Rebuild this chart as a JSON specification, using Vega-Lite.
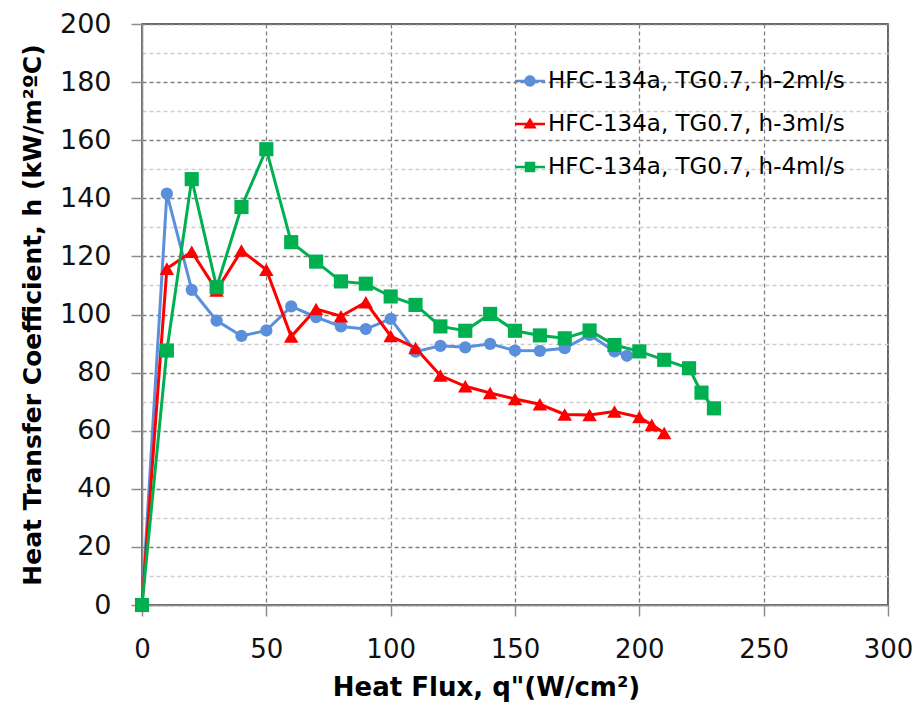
{
  "$schema": "https://vega.github.io/schema/vega-lite/v6.json",
  "width": 746,
  "height": 581,
  "autosize": {"type": "none"},
  "padding": {"left": 142, "top": 24, "right": 31, "bottom": 103},
  "background": "white",
  "config": {
    "view": {"stroke": "#333333", "strokeWidth": 1.5},
    "font": "DejaVu Sans"
  },
  "data": {
    "values": [
      {"series": "HFC-134a, TG0.7, h-2ml/s", "x": 0, "h": 0},
      {"series": "HFC-134a, TG0.7, h-2ml/s", "x": 10, "h": 141.6},
      {"series": "HFC-134a, TG0.7, h-2ml/s", "x": 20, "h": 108.5},
      {"series": "HFC-134a, TG0.7, h-2ml/s", "x": 30, "h": 97.9},
      {"series": "HFC-134a, TG0.7, h-2ml/s", "x": 40, "h": 92.6},
      {"series": "HFC-134a, TG0.7, h-2ml/s", "x": 50, "h": 94.5},
      {"series": "HFC-134a, TG0.7, h-2ml/s", "x": 60, "h": 102.8},
      {"series": "HFC-134a, TG0.7, h-2ml/s", "x": 70, "h": 99.1},
      {"series": "HFC-134a, TG0.7, h-2ml/s", "x": 80, "h": 95.9},
      {"series": "HFC-134a, TG0.7, h-2ml/s", "x": 90, "h": 95.0},
      {"series": "HFC-134a, TG0.7, h-2ml/s", "x": 100, "h": 98.5},
      {"series": "HFC-134a, TG0.7, h-2ml/s", "x": 110, "h": 87.2},
      {"series": "HFC-134a, TG0.7, h-2ml/s", "x": 120, "h": 89.2},
      {"series": "HFC-134a, TG0.7, h-2ml/s", "x": 130, "h": 88.7},
      {"series": "HFC-134a, TG0.7, h-2ml/s", "x": 140, "h": 89.9},
      {"series": "HFC-134a, TG0.7, h-2ml/s", "x": 150, "h": 87.6},
      {"series": "HFC-134a, TG0.7, h-2ml/s", "x": 160, "h": 87.5},
      {"series": "HFC-134a, TG0.7, h-2ml/s", "x": 170, "h": 88.4},
      {"series": "HFC-134a, TG0.7, h-2ml/s", "x": 180, "h": 93.0},
      {"series": "HFC-134a, TG0.7, h-2ml/s", "x": 190, "h": 87.3},
      {"series": "HFC-134a, TG0.7, h-2ml/s", "x": 195, "h": 85.8},
      {"series": "HFC-134a, TG0.7, h-3ml/s", "x": 0, "h": 0},
      {"series": "HFC-134a, TG0.7, h-3ml/s", "x": 10, "h": 115.8},
      {"series": "HFC-134a, TG0.7, h-3ml/s", "x": 20, "h": 121.6},
      {"series": "HFC-134a, TG0.7, h-3ml/s", "x": 30, "h": 108.3},
      {"series": "HFC-134a, TG0.7, h-3ml/s", "x": 40, "h": 122.0},
      {"series": "HFC-134a, TG0.7, h-3ml/s", "x": 50, "h": 115.4},
      {"series": "HFC-134a, TG0.7, h-3ml/s", "x": 60, "h": 92.4},
      {"series": "HFC-134a, TG0.7, h-3ml/s", "x": 70, "h": 101.9},
      {"series": "HFC-134a, TG0.7, h-3ml/s", "x": 80, "h": 99.4},
      {"series": "HFC-134a, TG0.7, h-3ml/s", "x": 90, "h": 104.2},
      {"series": "HFC-134a, TG0.7, h-3ml/s", "x": 100, "h": 92.6},
      {"series": "HFC-134a, TG0.7, h-3ml/s", "x": 110, "h": 88.5},
      {"series": "HFC-134a, TG0.7, h-3ml/s", "x": 120, "h": 79.0},
      {"series": "HFC-134a, TG0.7, h-3ml/s", "x": 130, "h": 75.3},
      {"series": "HFC-134a, TG0.7, h-3ml/s", "x": 140, "h": 73.0},
      {"series": "HFC-134a, TG0.7, h-3ml/s", "x": 150, "h": 70.9},
      {"series": "HFC-134a, TG0.7, h-3ml/s", "x": 160, "h": 69.1},
      {"series": "HFC-134a, TG0.7, h-3ml/s", "x": 170, "h": 65.6},
      {"series": "HFC-134a, TG0.7, h-3ml/s", "x": 180, "h": 65.4},
      {"series": "HFC-134a, TG0.7, h-3ml/s", "x": 190, "h": 66.6},
      {"series": "HFC-134a, TG0.7, h-3ml/s", "x": 200, "h": 64.7},
      {"series": "HFC-134a, TG0.7, h-3ml/s", "x": 205, "h": 62.0},
      {"series": "HFC-134a, TG0.7, h-3ml/s", "x": 210, "h": 59.2},
      {"series": "HFC-134a, TG0.7, h-4ml/s", "x": 0, "h": 0},
      {"series": "HFC-134a, TG0.7, h-4ml/s", "x": 10, "h": 87.6},
      {"series": "HFC-134a, TG0.7, h-4ml/s", "x": 20, "h": 146.6},
      {"series": "HFC-134a, TG0.7, h-4ml/s", "x": 30, "h": 109.4},
      {"series": "HFC-134a, TG0.7, h-4ml/s", "x": 40, "h": 137.0},
      {"series": "HFC-134a, TG0.7, h-4ml/s", "x": 50, "h": 156.9},
      {"series": "HFC-134a, TG0.7, h-4ml/s", "x": 60, "h": 124.9},
      {"series": "HFC-134a, TG0.7, h-4ml/s", "x": 70, "h": 118.2},
      {"series": "HFC-134a, TG0.7, h-4ml/s", "x": 80, "h": 111.4},
      {"series": "HFC-134a, TG0.7, h-4ml/s", "x": 90, "h": 110.6},
      {"series": "HFC-134a, TG0.7, h-4ml/s", "x": 100, "h": 106.2},
      {"series": "HFC-134a, TG0.7, h-4ml/s", "x": 110, "h": 103.3},
      {"series": "HFC-134a, TG0.7, h-4ml/s", "x": 120, "h": 95.9},
      {"series": "HFC-134a, TG0.7, h-4ml/s", "x": 130, "h": 94.4},
      {"series": "HFC-134a, TG0.7, h-4ml/s", "x": 140, "h": 100.2},
      {"series": "HFC-134a, TG0.7, h-4ml/s", "x": 150, "h": 94.4},
      {"series": "HFC-134a, TG0.7, h-4ml/s", "x": 160, "h": 92.8},
      {"series": "HFC-134a, TG0.7, h-4ml/s", "x": 170, "h": 91.8},
      {"series": "HFC-134a, TG0.7, h-4ml/s", "x": 180, "h": 94.5},
      {"series": "HFC-134a, TG0.7, h-4ml/s", "x": 190, "h": 89.5},
      {"series": "HFC-134a, TG0.7, h-4ml/s", "x": 200, "h": 87.3},
      {"series": "HFC-134a, TG0.7, h-4ml/s", "x": 210, "h": 84.4},
      {"series": "HFC-134a, TG0.7, h-4ml/s", "x": 220, "h": 81.5},
      {"series": "HFC-134a, TG0.7, h-4ml/s", "x": 225, "h": 73.1},
      {"series": "HFC-134a, TG0.7, h-4ml/s", "x": 230, "h": 67.7}
    ]
  },
  "encoding": {
    "x": {
      "field": "x", "type": "quantitative",
      "scale": {"domain": [0, 300], "nice": false, "zero": false},
      "axis": {
        "values": [0, 50, 100, 150, 200, 250, 300],
        "title": "Heat Flux, q\"(W/cm²)",
        "titleFont": "DejaVu Sans", "titleFontSize": 26, "titleFontWeight": "bold", "titleColor": "#000000",
        "titlePadding": 12, "titleX": 344,
        "labelFont": "DejaVu Sans", "labelFontSize": 26, "labelColor": "#111111", "labelPadding": 20,
        "domainColor": "#8c8c8c", "domainWidth": 1.5,
        "tickColor": "#8c8c8c", "tickSize": 11, "tickWidth": 1.5,
        "grid": true, "gridColor": "#7f7f7f", "gridDash": [4, 3], "gridWidth": 1.3,
        "labelFlush": false, "labelOverlap": false
      }
    },
    "y": {
      "field": "h", "type": "quantitative",
      "scale": {"domain": [0, 200], "nice": false},
      "axis": {
        "values": [0, 10, 20, 30, 40, 50, 60, 70, 80, 90, 100, 110, 120, 130, 140, 150, 160, 170, 180, 190, 200],
        "labelExpr": "datum.value % 20 === 0 ? datum.label : ''",
        "title": "Heat Transfer Coefficient, h (kW/m²ºC)",
        "titleFont": "DejaVu Sans", "titleFontSize": 25, "titleFontWeight": "bold", "titleColor": "#000000",
        "titlePadding": 14,
        "labelFont": "DejaVu Sans", "labelFontSize": 27, "labelColor": "#111111", "labelPadding": 20,
        "domainColor": "#8c8c8c", "domainWidth": 1.5,
        "tickColor": "#8c8c8c", "tickSize": 11, "tickWidth": 1.5,
        "tickOpacity": {"condition": {"test": "datum.value % 20 === 0", "value": 1}, "value": 0},
        "grid": true,
        "gridColor": {"condition": {"test": "datum.value % 20 === 0", "value": "#7f7f7f"}, "value": "#cfcfcf"},
        "gridDash": [4, 3], "gridWidth": 1.3,
        "labelFlush": false, "labelOverlap": false
      }
    },
    "color": {
      "field": "series", "type": "nominal",
      "scale": {
        "domain": ["HFC-134a, TG0.7, h-2ml/s", "HFC-134a, TG0.7, h-3ml/s", "HFC-134a, TG0.7, h-4ml/s"],
        "range": ["#5b8fdb", "#ff0000", "#00b050"]
      },
      "legend": {
        "title": null,
        "orient": "none",
        "legendX": 373,
        "legendY": 42,
        "padding": 0,
        "symbolSize": 900,
        "symbolStrokeWidth": 0,
        "symbolOpacity": 1,
        "labelFont": "DejaVu Sans",
        "labelFontSize": 23,
        "labelColor": "#000000",
        "labelOffset": 3,
        "rowPadding": 16,
        "labelLimit": 500,
        "encode": {
          "symbols": {
            "update": {
              "shape": {"signal": "datum.value === 'HFC-134a, TG0.7, h-2ml/s' ? 'M-1,-0.09H1V0.09H-1Z M0.38,0A0.38,0.38 0 1,1 -0.38,0A0.38,0.38 0 1,1 0.38,0Z' : datum.value === 'HFC-134a, TG0.7, h-3ml/s' ? 'M-1,-0.09H1V0.09H-1Z M0,-0.44L0.44,0.3L-0.44,0.3Z' : 'M-1,-0.09H1V0.09H-1Z M-0.35,-0.35H0.35V0.35H-0.35Z'"},
              "fill": {"scale": "color", "field": "value"},
              "strokeWidth": {"value": 0}
            }
          }
        }
      }
    }
  },
  "layer": [
    {
      "mark": {"type": "line", "strokeWidth": 3},
      "encoding": {}
    },
    {
      "transform": [{"filter": "datum.series === 'HFC-134a, TG0.7, h-2ml/s'"}],
      "mark": {"type": "point", "shape": "circle", "filled": true, "opacity": 1, "strokeWidth": 0, "size": 150}
    },
    {
      "transform": [{"filter": "datum.series === 'HFC-134a, TG0.7, h-3ml/s'"}],
      "mark": {"type": "point", "shape": "triangle-up", "filled": true, "opacity": 1, "strokeWidth": 0, "size": 210}
    },
    {
      "transform": [{"filter": "datum.series === 'HFC-134a, TG0.7, h-4ml/s'"}],
      "mark": {"type": "point", "shape": "square", "filled": true, "opacity": 1, "strokeWidth": 0, "size": 200}
    }
  ]
}
